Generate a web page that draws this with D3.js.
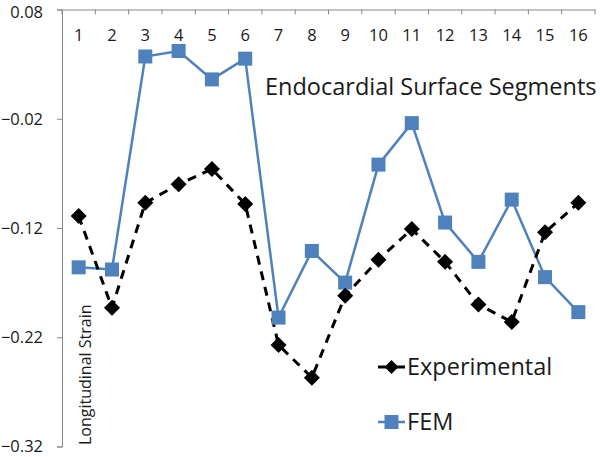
<!DOCTYPE html>
<html><head><meta charset="utf-8">
<script src="https://cdn.jsdelivr.net/npm/d3@7"></script>
<style>body{margin:0;background:#fff}svg{display:block}text{font-family:"Open Sans",sans-serif;fill:#1a1a1a}</style>
</head><body>
<script>
const categories = ["1","2","3","4","5","6","7","8","9","10","11","12","13","14","15","16"];
const experimental = [-0.109,-0.193,-0.097,-0.080,-0.066,-0.098,-0.227,-0.257,-0.182,-0.149,-0.121,-0.151,-0.190,-0.206,-0.124,-0.097];
const fem = [-0.156,-0.158,0.037,0.042,0.016,0.035,-0.202,-0.141,-0.170,-0.062,-0.024,-0.115,-0.151,-0.094,-0.165,-0.197];
const yTicks = [0.08,-0.02,-0.12,-0.22,-0.32];
const seriesNames = ["Experimental","FEM"];

const W=600,H=457;
const svg=d3.select("body").append("svg").attr("width",W).attr("height",H);
const x=d3.scaleBand().domain(categories).range([62,595]);
const y=d3.scaleLinear().domain([-0.32,0.08]).range([446.5,9.5]);

// y axis
const ya=svg.append("g").attr("transform","translate(62,0)")
  .call(d3.axisLeft(y).tickValues(yTicks).tickSize(5).tickPadding(14).tickFormat(d=>d3.format(".2f")(d)));
ya.select(".domain").attr("stroke","#888");
ya.selectAll(".tick line").attr("stroke","#888");
ya.selectAll(".tick text").attr("font-size","16.5px").attr("fill","#1a1a1a")
  .attr("y",d=>d===0.08?3:0);

// x axis at top (crosses at 0.08), ticks downward
const xa=svg.append("g").attr("transform",`translate(0,${y(0.08)})`)
  .call(d3.axisBottom(x).tickSize(0).tickPadding(0));
xa.select(".domain").attr("stroke","#888");
xa.selectAll(".tick text").attr("font-size","16.5px").attr("fill","#1a1a1a").attr("dy","0").attr("y",31);
// boundary tick marks
const bounds=categories.map(c=>x(c)).concat([x.range()[1]]);
svg.append("g").selectAll("line").data(bounds).join("line")
  .attr("x1",d=>d).attr("x2",d=>d).attr("y1",y(0.08)).attr("y2",y(0.08)+5).attr("stroke","#888");

const cx=c=>x(c)+x.bandwidth()/2;

// title
svg.append("text").attr("x",265).attr("y",95).attr("font-size","23.5px").text("Endocardial Surface Segments");
// y axis title
svg.append("text").attr("transform","translate(91,445) rotate(-90)").attr("font-size","16px").text("Longitudinal Strain");

const blue="#4F81BD";
const lineF=d3.line().x((d,i)=>cx(categories[i])).y(d=>y(d));
svg.append("path").attr("d",lineF(fem)).attr("fill","none").attr("stroke",blue).attr("stroke-width",2.5);
svg.append("path").attr("d",lineF(experimental)).attr("fill","none").attr("stroke","#000").attr("stroke-width",3).attr("stroke-dasharray","9,7");

const sq=14;
svg.append("g").selectAll("rect").data(fem).join("rect")
  .attr("x",(d,i)=>cx(categories[i])-sq/2).attr("y",d=>y(d)-sq/2).attr("width",sq).attr("height",sq).attr("fill",blue);
const dm=8;
svg.append("g").selectAll("path").data(experimental).join("path")
  .attr("d",(d,i)=>{const px=cx(categories[i]),py=y(d);return `M${px},${py-dm}L${px+dm},${py}L${px},${py+dm}L${px-dm},${py}Z`;})
  .attr("fill","#000");

// legend
const lg=svg.append("g");
const legY=[367,422];
lg.append("line").attr("x1",378).attr("x2",405).attr("y1",legY[0]).attr("y2",legY[0]).attr("stroke","#000").attr("stroke-width",3);
lg.append("path").attr("d",`M391.5,${legY[0]-7}L398.5,${legY[0]}L391.5,${legY[0]+7}L384.5,${legY[0]}Z`).attr("fill","#000");
lg.append("text").attr("x",407).attr("y",legY[0]+8).attr("font-size","23.5px").text(seriesNames[0]);
lg.append("line").attr("x1",378).attr("x2",405).attr("y1",legY[1]).attr("y2",legY[1]).attr("stroke",blue).attr("stroke-width",2.5);
lg.append("rect").attr("x",384.5).attr("y",legY[1]-7).attr("width",14).attr("height",14).attr("fill",blue);
lg.append("text").attr("x",407).attr("y",legY[1]+8).attr("font-size","23.5px").text(seriesNames[1]);
</script>
</body></html>
